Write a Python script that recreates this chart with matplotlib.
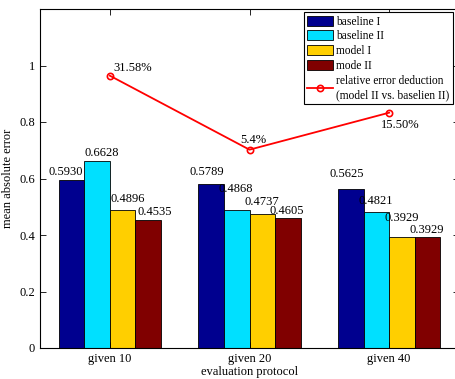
import numpy as np
import matplotlib
matplotlib.use('Agg')
import matplotlib.pyplot as plt

plt.rcParams['font.family'] = ['Liberation Serif', 'DejaVu Serif']
plt.rcParams['font.size'] = 9

# 数据
groups = ['given 10', 'given 20', 'given 40']
series = ['baseline I', 'baseline II', 'model I', 'mode II']
values = [
    [0.5930, 0.5789, 0.5625],   # baseline I
    [0.6628, 0.4868, 0.4821],   # baseline II
    [0.4896, 0.4737, 0.3929],   # model I
    [0.4535, 0.4605, 0.3929],   # mode II
]
value_texts = [
    ['0.5930', '0.5789', '0.5625'],
    ['0.6628', '0.4868', '0.4821'],
    ['0.4896', '0.4737', '0.3929'],
    ['0.4535', '0.4605', '0.3929'],
]
rel_err = [0.964, 0.702, 0.833]
rel_err_text = ['31.58%', '5.4%', '15.50%']
line_label = 'relative error deduction\n(model II vs. baselien II)'

colors = ['#00008F', '#00E0FF', '#FFCF00', '#800000']

# 数值标签的偏移 (像素)
label_dx = [[-6, -4, -4], [5, -1, -1], [5, 0, 0], [7, -1, -1]]
label_dy = [[2, 6, 9], [2, 15, 5], [5, 6, 13], [2, 1, 1]]
err_off = [(4, 2, 'left', 'bottom'), (4, 4, 'center', 'bottom'), (11, -6, 'center', 'top')]

fig = plt.figure(figsize=(4.55, 3.79), dpi=100)
ax = fig.add_axes([40 / 455, 31 / 379, 419 / 455, 339 / 379])

x = np.arange(1, len(groups) + 1)
w = 0.183
for i, s in enumerate(series):
    pos = x + (i - 1.5) * w
    ax.bar(pos, values[i], w, color=colors[i], edgecolor='black', linewidth=0.6, label=s)
    for j in range(len(groups)):
        ax.annotate(value_texts[i][j], (pos[j], values[i][j]),
                    xytext=(label_dx[i][j], label_dy[i][j]), textcoords='offset pixels',
                    ha='center', va='bottom', fontsize=9)

ax.plot(x, rel_err, color='red', lw=1.3, marker='o', ms=4.5, mfc='none', mew=1.2,
        label=line_label)
for j in range(len(groups)):
    dx, dy, ha, va = err_off[j]
    ax.annotate(rel_err_text[j], (x[j], rel_err[j]), xytext=(dx, dy),
                textcoords='offset pixels', ha=ha, va=va, fontsize=9)

ax.set_xlim(0.5, 3.5)
ax.set_ylim(0, 1.2)
ax.set_yticks([0, 0.2, 0.4, 0.6, 0.8, 1.0])
ax.set_yticklabels(['0', '0.2', '0.4', '0.6', '0.8', '1'])
ax.set_xticks(x)
ax.set_xticklabels(groups)
ax.tick_params(direction='in', top=True, right=True, length=4, width=0.6, labelsize=9)
for sp in ax.spines.values():
    sp.set_linewidth(0.8)
ax.set_xlabel('evaluation protocol', fontsize=9, labelpad=1)
ax.set_ylabel('mean absolute error', fontsize=9, labelpad=4)

# 图例: 折线放在最后
handles, labels = ax.get_legend_handles_labels()
handles = handles[1:] + handles[:1]
labels = labels[1:] + labels[:1]
leg = ax.legend(handles, labels, loc='upper right',
                bbox_to_anchor=(413 / 419, 0.991),
                fontsize=8.3, fancybox=False, framealpha=1, edgecolor='black',
                handlelength=2.2, handleheight=0.95, borderpad=0.3, labelspacing=0.25,
                handletextpad=0.3, borderaxespad=0)
leg.get_frame().set_linewidth(0.8)

fig.savefig('out.png', dpi=100)
